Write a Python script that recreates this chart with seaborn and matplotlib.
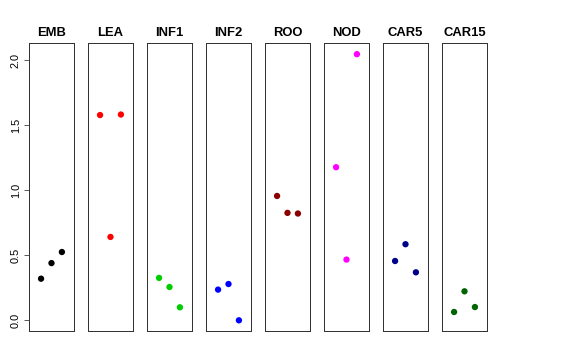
import matplotlib
matplotlib.use("Agg")
import matplotlib.pyplot as plt
import seaborn as sns
import pandas as pd

tissues = ["EMB", "LEA", "INF1", "INF2", "ROO", "NOD", "CAR5", "CAR15"]
colors = ["black", "red", "#00CD00", "blue", "#8B0000", "magenta", "#00008B", "#006400"]
replicate = [1, 2, 3]
emb = [0.32, 0.44, 0.525]
lea = [1.578, 0.641, 1.582]
inf1 = [0.326, 0.256, 0.10]
inf2 = [0.236, 0.279, 0.0]
roo = [0.956, 0.826, 0.821]
nod = [1.177, 0.467, 2.046]
car5 = [0.456, 0.585, 0.369]
car15 = [0.064, 0.223, 0.102]
values = [emb, lea, inf1, inf2, roo, nod, car5, car15]
yticks = [0.0, 0.5, 1.0, 1.5, 2.0]

rows = []
for t, vals in zip(tissues, values):
    for r, v in zip(replicate, vals):
        rows.append({"tissue": t, "rep": r, "value": v})
df = pd.DataFrame(rows)

sns.set_style("white")
plt.rcParams['font.family'] = ['Liberation Sans', 'DejaVu Sans']
plt.rcParams['text.color'] = 'black'
plt.rcParams['axes.labelcolor'] = 'black'
plt.rcParams['ytick.color'] = 'black'

fig, axes = plt.subplots(1, 8, figsize=(8, 5), dpi=72, sharey=True)
fig.subplots_adjust(left=0.0503, right=0.8455, bottom=0.0806, top=0.8806, wspace=0.311)

for i, (ax, t, c) in enumerate(zip(axes, tissues, colors)):
    sub = df[df["tissue"] == t]
    sns.scatterplot(data=sub, x="rep", y="value", ax=ax, color=c, s=40,
                    edgecolor="none", legend=False)
    ax.set_xlim(-0.16, 4.16)
    ax.set_ylim(-0.082, 2.132)
    ax.set_xticks([])
    ax.set_xlabel("")
    ax.set_ylabel("")
    ax.set_title(t, fontsize=13, fontweight="bold", pad=7, color="black")
    for sp in ax.spines.values():
        sp.set_visible(True)
        sp.set_color("#333333")
        sp.set_linewidth(1.0)
    if i == 0:
        ax.set_yticks(yticks)
        ax.set_yticklabels([f"{v:.1f}" for v in yticks], rotation=90, va="center", fontsize=11)
        ax.tick_params(axis="y", left=True, length=5, width=0.8, color="#333333", pad=3,
                       labelcolor="black")
    else:
        ax.tick_params(axis="y", left=False, labelleft=False)

fig.savefig("out.png", dpi=72)
